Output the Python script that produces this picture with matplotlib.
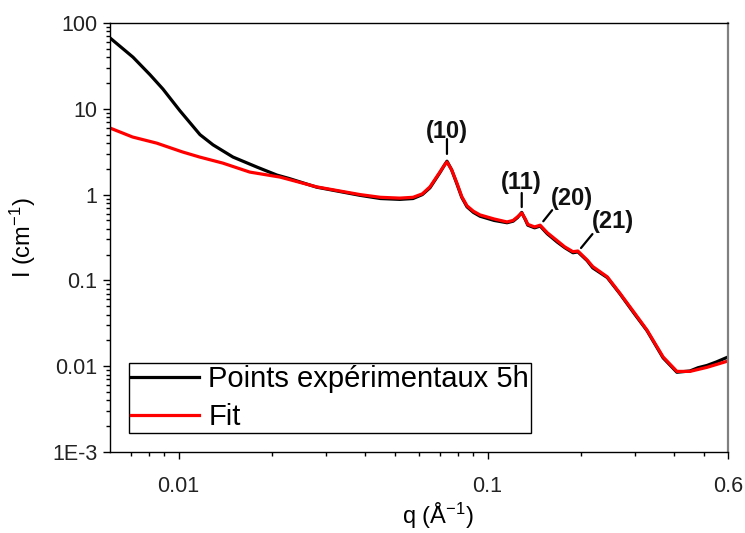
import matplotlib
matplotlib.use('Agg')
import matplotlib.pyplot as plt
from matplotlib.ticker import FixedLocator, FixedFormatter, LogLocator, NullFormatter

# fit curve
q_fit = [0.006, 0.0071, 0.0085, 0.0103, 0.0117, 0.0139, 0.017, 0.0213, 0.028, 0.0387,
         0.045, 0.052, 0.0574, 0.0615, 0.0651, 0.0701, 0.0725, 0.0739, 0.0765, 0.0796,
         0.0825, 0.0858, 0.09, 0.0945, 0.105, 0.1156, 0.121, 0.125, 0.129, 0.1325,
         0.135, 0.142, 0.148, 0.156, 0.168, 0.178, 0.189, 0.196, 0.21, 0.219,
         0.244, 0.268, 0.3, 0.328, 0.37, 0.41, 0.452, 0.513, 0.6]
I_fit = [5.97, 4.69, 3.98, 3.14, 2.74, 2.33, 1.83, 1.6, 1.23, 1.0,
         0.93, 0.91, 0.93, 1.02, 1.23, 1.83, 2.2, 2.4, 1.95, 1.36,
         0.95, 0.74, 0.64, 0.58, 0.52, 0.48, 0.5, 0.55, 0.61, 0.52,
         0.45, 0.42, 0.44, 0.36, 0.29, 0.245, 0.216, 0.22, 0.173, 0.145,
         0.11, 0.071, 0.041, 0.0264, 0.0128, 0.0087, 0.0087, 0.0097, 0.0115]

# experimental points (5h)
q_exp = [0.006, 0.00712, 0.00808, 0.0089, 0.0101, 0.01173, 0.01293, 0.015, 0.01795, 0.0208,
         0.0228, 0.028, 0.0387, 0.045, 0.052, 0.0574, 0.0615, 0.0651, 0.0701, 0.0725,
         0.0739, 0.0765, 0.0796, 0.0825, 0.0858, 0.09, 0.0945, 0.105, 0.1156, 0.121,
         0.125, 0.129, 0.1325, 0.135, 0.142, 0.148, 0.156, 0.168, 0.178, 0.189,
         0.196, 0.21, 0.219, 0.244, 0.268, 0.3, 0.328, 0.37, 0.41, 0.452,
         0.48, 0.513, 0.55, 0.6]
I_exp = [67, 40, 25, 17, 9.5, 5.0, 3.8, 2.74, 2.09, 1.69,
         1.54, 1.22, 0.98, 0.9, 0.88, 0.9, 1.0, 1.2, 1.8, 2.2,
         2.45, 1.95, 1.33, 0.93, 0.72, 0.62, 0.56, 0.5, 0.47, 0.49,
         0.54, 0.62, 0.51, 0.44, 0.41, 0.43, 0.35, 0.28, 0.24, 0.21,
         0.215, 0.17, 0.14, 0.108, 0.07, 0.04, 0.026, 0.0125, 0.0085, 0.0088,
         0.0096, 0.0102, 0.0112, 0.0128]

# bragg peak labels
peak_labels = ['(10)', '(11)', '(20)', '(21)']
peak_q = [0.0739, 0.129, 0.148, 0.197]
peak_I = [2.4, 0.61, 0.44, 0.22]

x_ticks = [0.01, 0.1, 0.6]
x_ticklabels = ['0.01', '0.1', '0.6']
x_minor = [0.007, 0.008, 0.009, 0.02, 0.03, 0.04, 0.05, 0.06, 0.07, 0.08, 0.09,
           0.2, 0.3, 0.4, 0.5]
y_ticks = [1e-3, 1e-2, 1e-1, 1, 10, 100]
y_ticklabels = ['1E-3', '0.01', '0.1', '1', '10', '100']


def main():
    plt.rcParams['font.family'] = ['Liberation Sans', 'DejaVu Sans']
    plt.rcParams['mathtext.fontset'] = 'custom'
    plt.rcParams['mathtext.rm'] = 'Liberation Sans'
    plt.rcParams['mathtext.it'] = 'Liberation Sans'

    fig = plt.figure(figsize=(7.45, 5.33), dpi=100)
    ax = fig.add_axes([110 / 745, 1 - 452 / 533, 618 / 745, 429 / 533])

    ax.plot(q_exp, I_exp, color='black', lw=2.3, label='Points expérimentaux 5h')
    ax.plot(q_fit, I_fit, color='#ff0000', lw=2.3, label='Fit')

    ax.set_xscale('log')
    ax.set_yscale('log')
    ax.set_xlim(0.006, 0.6)
    ax.set_ylim(1e-3, 100)

    ax.xaxis.set_major_locator(FixedLocator(x_ticks))
    ax.xaxis.set_major_formatter(FixedFormatter(x_ticklabels))
    ax.xaxis.set_minor_locator(FixedLocator(x_minor))
    ax.xaxis.set_minor_formatter(NullFormatter())
    ax.yaxis.set_major_locator(FixedLocator(y_ticks))
    ax.yaxis.set_major_formatter(FixedFormatter(y_ticklabels))
    ax.yaxis.set_minor_locator(LogLocator(base=10, subs=range(2, 10)))
    ax.yaxis.set_minor_formatter(NullFormatter())

    ax.tick_params(which='major', length=5, width=1, labelsize=15.5, labelcolor='#222222')
    ax.tick_params(which='minor', length=3, width=1)
    ax.tick_params(axis='x', which='major', pad=12)
    ax.tick_params(axis='y', which='major', pad=4)

    for side in ['left', 'bottom', 'top']:
        ax.spines[side].set_linewidth(1.0)
    ax.spines['right'].set_color('#808080')
    ax.spines['right'].set_linewidth(1.6)

    ax.set_xlabel('q (Å$^{-1}$)', fontsize=17)
    ax.set_ylabel('I (cm$^{-1}$)', fontsize=17, labelpad=10)
    ax.xaxis.set_label_coords(0.53, -0.113)

    # peak markers: short dash + label above each reflection
    seg_start = [(0, 16.5), (0, 14.4), (8.6, 10.8), (10, 12.2)]
    seg_gap = [5.8, 4.3, 3.6, 2.8]
    text_off = [(0, 21.6), (0, 22.3), (23, 19.4), (24.5, 20.9)]
    for lab, q, I, s, g, t in zip(peak_labels, peak_q, peak_I, seg_start, seg_gap, text_off):
        ax.annotate('', xy=(q, I), xytext=s, textcoords='offset points',
                    arrowprops=dict(arrowstyle='-', color='black', lw=1.6,
                                    shrinkA=0, shrinkB=g))
        ax.annotate(lab, xy=(q, I), xytext=t, textcoords='offset points',
                    ha='center', va='center', fontsize=17, fontweight='bold',
                    color='#111111')

    leg = ax.legend(loc='lower left', bbox_to_anchor=(0.031, 0.044), fontsize=21,
                    frameon=True, fancybox=False, framealpha=1, edgecolor='black',
                    handlelength=2.33, handletextpad=0.3, labelspacing=0.33,
                    borderpad=0.08, borderaxespad=0)
    leg.get_frame().set_linewidth(1.0)

    fig.savefig('out.png', dpi=100)


if __name__ == '__main__':
    main()
